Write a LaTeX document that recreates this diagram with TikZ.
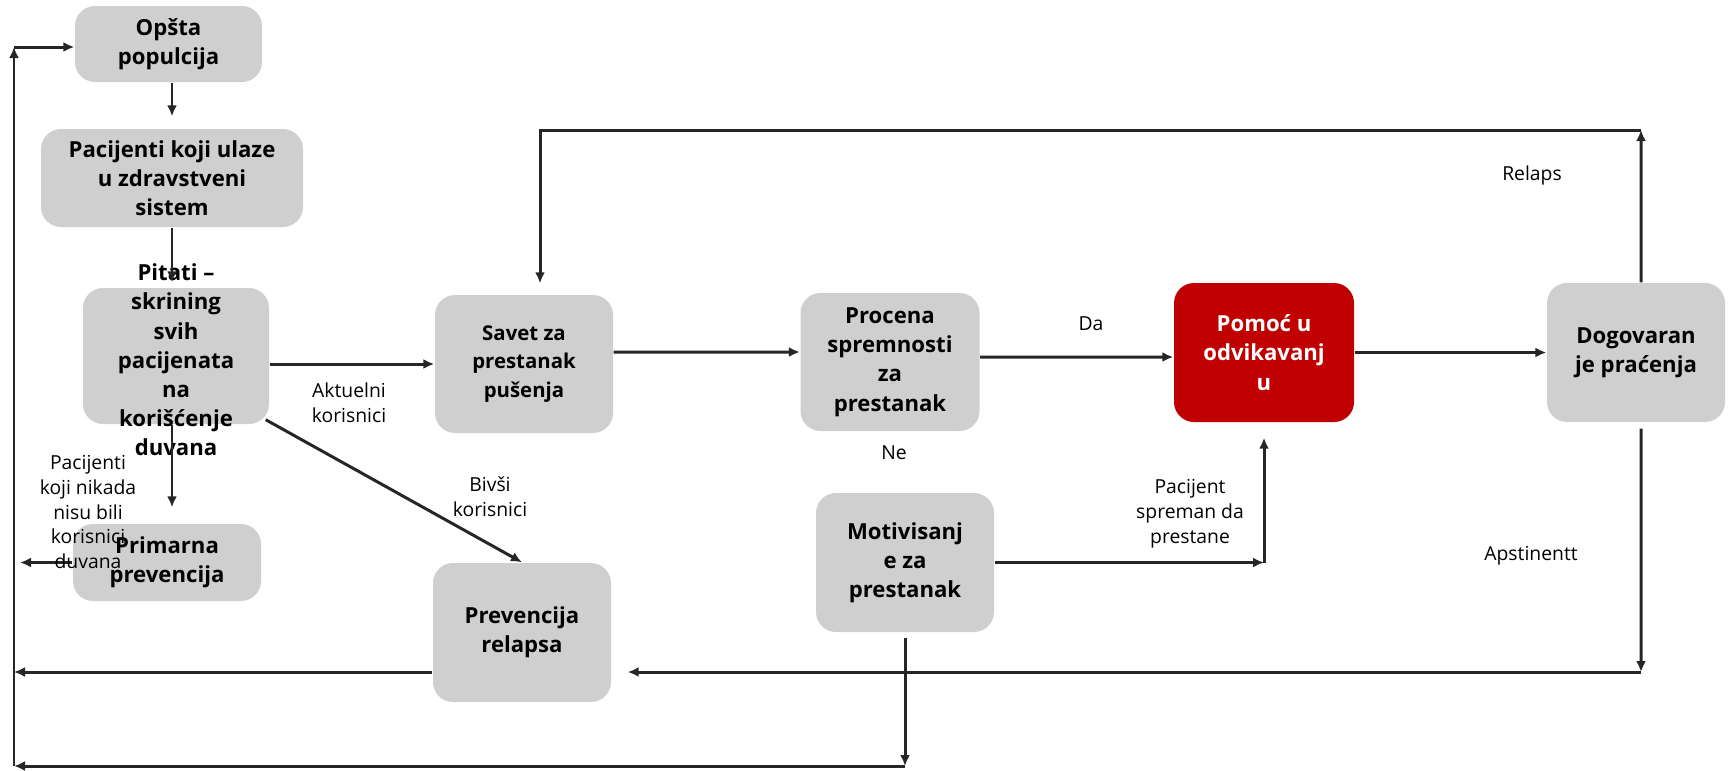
\documentclass[tikz,border=0pt]{standalone}
\usepackage{fontspec}
\setmainfont{Open Sans}
\usetikzlibrary{arrows.meta}
\definecolor{boxgray}{RGB}{208,207,208}
\definecolor{boxred}{RGB}{192,0,0}
\newcommand{\boxtxt}{\bfseries\fontsize{6.3}{8.3}\selectfont}
\newcommand{\smalltxt}{\bfseries\fontsize{5.8}{8.0}\selectfont}
\newcommand{\lbltxt}{\fontsize{5.5}{7.1}\selectfont}

\begin{document}
\begin{tikzpicture}[
	box/.style={rounded corners=2mm, fill=boxgray, align=center, font=\boxtxt, inner sep=0pt},
	redbox/.style={box, fill=boxred, text=white},
	lbl/.style={align=center, font=\lbltxt, inner sep=0pt},
	arr/.style={-{Latex[length=1.1mm,width=1mm]}, line width=0.85pt, draw=black!85}]
	\useasboundingbox (0,0) rectangle (17.33,-7.70);
	% left column
	\node[box, minimum width=1.87cm, minimum height=0.76cm] (opsta) at (1.685,-0.44) {Opšta\\populcija};
	\node[box, minimum width=2.62cm, minimum height=0.98cm] (pacijenti) at (1.72,-1.78) {Pacijenti koji ulaze\\u zdravstveni\\sistem};
	\node[box, minimum width=1.86cm, minimum height=1.36cm] (pitati) at (1.76,-3.56) {};
	\node[box, fill=none] (pitatitxt) at (1.76,-3.60) {Pitati –\\skrining\\svih\\pacijenata\\na\\korišćenje\\duvana};
	\node[box, minimum width=1.88cm, minimum height=0.77cm] (primarna) at (1.67,-5.625) {Primarna\\prevencija};
	% middle and right
	\node[box, font=\smalltxt, minimum width=1.78cm, minimum height=1.38cm] (savet) at (5.24,-3.64) {Savet za\\prestanak\\pušenja};
	\node[box, minimum width=1.79cm, minimum height=1.38cm] (procena) at (8.90,-3.62) {Procena\\spremnosti\\za\\prestanak};
	\node[redbox, minimum width=1.80cm, minimum height=1.39cm] (pomoc) at (12.64,-3.525) {Pomoć u\\odvikavanj\\u};
	\node[box, minimum width=1.78cm, minimum height=1.39cm] (dogovor) at (16.36,-3.525) {Dogovaran\\je praćenja};
	\node[box, minimum width=1.78cm, minimum height=1.39cm] (motiv) at (9.05,-5.625) {Motivisanj\\e za\\prestanak};
	\node[box, minimum width=1.78cm, minimum height=1.39cm] (prevencija) at (5.22,-6.325) {Prevencija\\relapsa};
	% loop points
	\coordinate (railtop) at (0.14,-0.47);
	\coordinate (railbot) at (0.14,-7.66);
	\coordinate (primout) at (0.20,-5.625);
	\coordinate (relapsne) at (16.41,-1.30);
	\coordinate (relapsnw) at (5.40,-1.30);
	\coordinate (apstse) at (16.41,-6.72);
	\coordinate (motivbot) at (9.05,-7.66);
	\coordinate (motivcorner) at (motiv.east -| pomoc.south);
	% screening path
	\draw[arr, shorten >=0.12cm] (opsta.south -| pacijenti.south) -- (pacijenti.north);
	\draw[arr, shorten >=0.05cm] (pacijenti.south) -- (pitati.north -| pacijenti.south);
	\draw[arr, shorten >=0.16cm] (pitati.south -| pacijenti.south) -- (primarna.north -| pacijenti.south);
	\draw[arr] (primarna.west) -- (primout);
	\node[lbl] (nikada) at (0.88,-5.12) {Pacijenti\\koji nikada\\nisu bili\\korisnici\\duvana};
	\draw[arr] (pitati.east |- savet.west) -- (savet.west);
	\node[lbl] (aktuelni) at (3.49,-4.03) {Aktuelni\\korisnici};
	\draw[arr] ([shift={(-0.04,0.05)}]pitati.south east) -- (prevencija.north);
	\node[lbl] (bivsi) at (4.90,-4.97) {Bivši\\korisnici};
	% cessation path
	\draw[arr] ([yshift=1.2mm]savet.east) -- ([yshift=1mm]procena.west);
	\draw[arr] ([yshift=0.5mm]procena.east) -- ([yshift=-0.45mm]pomoc.west);
	\node[lbl] (da) at (10.91,-3.24) {Da};
	\node[lbl] (ne) at (8.94,-4.53) {Ne};
	\draw[arr] (pomoc) -- (dogovor);
	\draw[arr] (motiv.east) -- (motivcorner);
	\draw[arr, shorten >=0.15cm] (motivcorner) -- (pomoc.south);
	\node[lbl] (spreman) at (11.90,-5.14) {Pacijent\\spreman da\\prestane};
	% relapse loop
	\draw[arr] ([xshift=0.5mm]dogovor.north) -- (relapsne);
	\draw[arr, shorten >=0.11cm] (relapsne) -- (relapsnw) -- (relapsnw |- savet.north);
	\node[lbl] (relaps) at (15.32,-1.75) {Relaps};
	% abstinence loop
	\draw[arr, shorten <=0.06cm] ([xshift=0.5mm]dogovor.south) -- (apstse);
	\draw[arr, shorten >=0.16cm] (apstse) -- (prevencija.east |- apstse);
	\node[lbl] (apstinent) at (15.31,-5.56) {Apstinentt};
	% back to the start
	\draw[arr] (prevencija.west |- apstse) -- (railbot |- apstse);
	\draw[arr, shorten <=0.05cm] (motiv.south) -- (motivbot);
	\draw[arr] (motivbot) -- (railbot);
	\draw[arr] (railbot) -- (railtop);
	\draw[arr] (railtop) -- (opsta.west |- railtop);
\end{tikzpicture}
\end{document}
